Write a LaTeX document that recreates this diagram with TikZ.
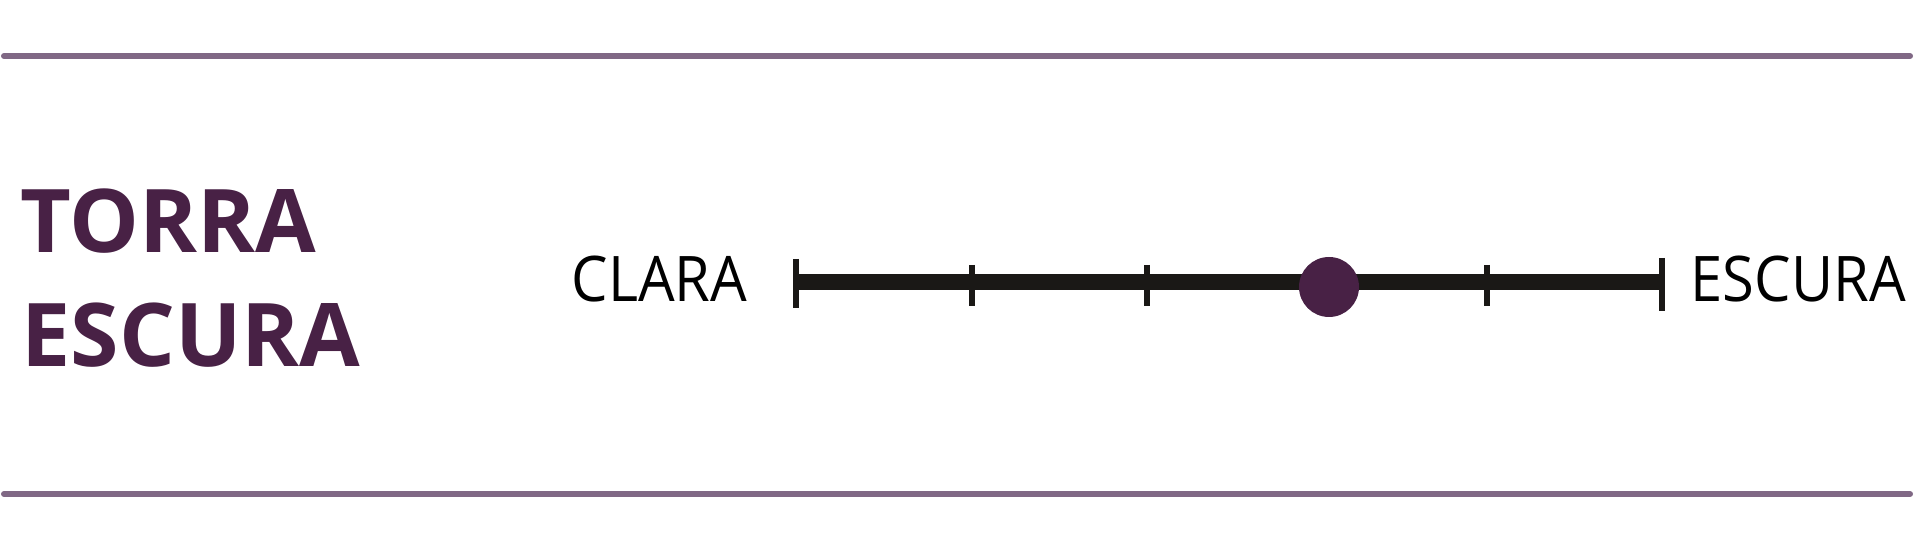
\documentclass[tikz,border=0pt]{standalone}
\usepackage{fontspec}
\setmainfont{Open Sans}
\newfontfamily\estret[FakeStretch=0.92]{Open Sans}
\definecolor{morat}{RGB}{72,33,69}
\definecolor{malva}{RGB}{128,104,133}
\definecolor{negre}{RGB}{26,24,22}
\begin{document}
\begin{tikzpicture}[
	titol/.style={inner sep=0pt, anchor=base west, text=morat, font=\fontsize{25}{28}\selectfont\bfseries},
	etiqueta/.style={inner sep=0pt, anchor=base west, text=black, font=\estret\fontsize{17.9}{20}\selectfont},
	vora/.style={malva, line width=0.06cm, line cap=round},
	marca/.style={negre, line width=0.06cm}]
	\useasboundingbox (0,0) rectangle (19.2,5.52);
	
	% Línies de vora
	\draw[vora] (0.04,4.96) -- (19.10,4.96);
	\draw[vora] (0.04,0.58) -- (19.10,0.58);
	
	% Títol
	\node[titol] (torra) at (0.20,2.99) {TORRA};
	\node[titol] (escura) at (0.21,1.85) {ESCURA};
	
	% Escala
	\coordinate (e0) at (7.96,2.695);
	\coordinate (e5) at (16.62,2.695);
	\draw[negre, line width=0.16cm] (e0) -- (e5);
	\draw[marca] (7.96,2.93) -- (7.96,2.44);
	\draw[marca] (16.62,2.94) -- (16.62,2.41);
	\foreach \x in {9.72, 11.47, 14.87}
		\draw[marca] (\x,2.87) -- (\x,2.46);
	
	% Punt
	\fill[morat] (13.29,2.65) circle (0.30);
	
	% Extrems
	\node[etiqueta] (clara) at (5.71,2.50) {CLARA};
	\node[etiqueta] (fosca) at (16.90,2.50) {ESCURA};
\end{tikzpicture}
\end{document}
